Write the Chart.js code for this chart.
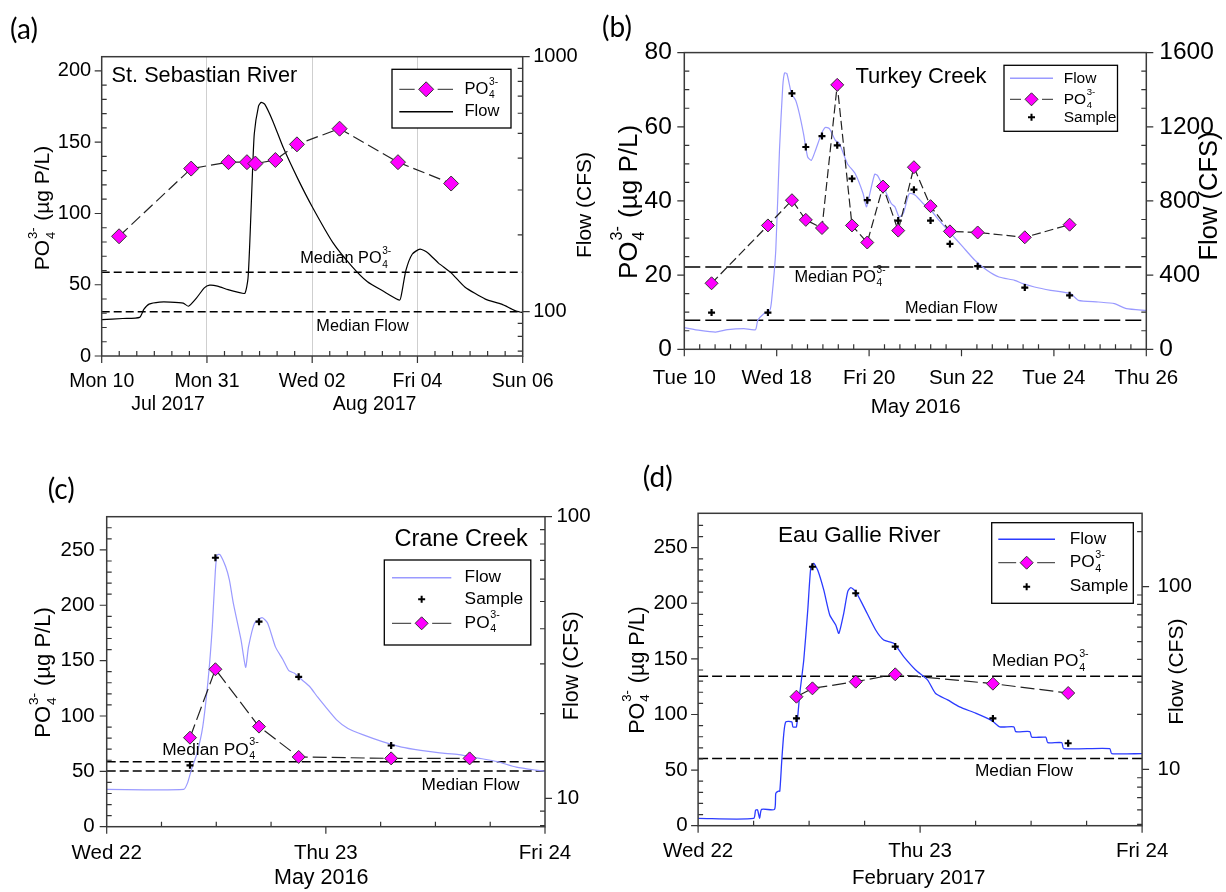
<!DOCTYPE html>
<html>
<head>
<meta charset="utf-8">
<title>Phosphate and flow, four tributaries</title>
<script src="https://cdn.jsdelivr.net/npm/chart.js@4.4.1/dist/chart.umd.min.js"></script>
<style>
  html, body { margin: 0; padding: 0; background: #fff; }
  #page { position: relative; width: 1226px; height: 892px; overflow: hidden; }
  #page canvas { position: absolute; }
</style>
</head>
<body>
<div id="page">
  <canvas id="chartA" width="600" height="440" style="left:0;top:0"></canvas>
  <canvas id="chartB" width="626" height="440" style="left:600px;top:0"></canvas>
  <canvas id="chartC" width="600" height="452" style="left:0;top:440px"></canvas>
  <canvas id="chartD" width="626" height="452" style="left:600px;top:440px"></canvas>
</div>
<script>
// ── (a) St. Sebastian River, Jul–Aug 2017 ─────────────────────────
const aTickPos = [0, 2, 4, 6, 8];
const aTickLabels = ['Mon 10', 'Mon 31', 'Wed 02', 'Fri 04', 'Sun 06'];
const aPo4Days = [0.33, 1.70, 2.41, 2.76, 2.92, 3.30, 3.71, 4.52, 5.63, 6.64];
const aPo4 = [84, 131.5, 136, 136, 135, 137.5, 148.5, 159.5, 136, 121];
const aFlowDays = [0, 0.40, 0.72, 0.80, 0.90, 1.10, 1.30, 1.55, 1.65, 1.80, 1.95, 2.05, 2.20, 2.40, 2.60,
  2.72, 2.78, 2.82, 2.86, 2.90, 2.98, 3.03, 3.10, 3.25, 3.45, 3.73, 4.00, 4.39, 4.75, 5.05,
  5.33, 5.66, 5.70, 5.78, 5.90, 6.05, 6.20, 6.40, 6.64, 6.90, 7.29, 7.60, 7.85, 8.00];
const aFlow = [93, 94, 95, 102, 107, 109, 109, 108, 105, 113, 124, 127, 126, 122, 119,
  118, 135, 200, 330, 500, 640, 662, 650, 560, 440, 331, 258, 187, 151, 131,
  121, 111, 118, 145, 168, 176, 170, 155, 142, 125, 112, 107, 101, 99];
const aMedianPo4 = 58.7;
const aMedianFlow = 100;

// ── (b) Turkey Creek, May 2016 ────────────────────────────────────
const bTickPos = [0, 2, 4, 6, 8, 10];
const bTickLabels = ['Tue 10', 'Wed 18', 'Fri 20', 'Sun 22', 'Tue 24', 'Thu 26'];
const bPo4Days = [0.59, 1.81, 2.33, 2.63, 2.98, 3.31, 3.63, 3.96, 4.30, 4.63, 4.97, 5.33, 5.75, 6.35, 7.37, 8.34];
const bPo4 = [17.8, 33.4, 40.2, 34.9, 32.7, 71.3, 33.4, 28.8, 43.9, 32.0, 49.1, 38.6, 31.8, 31.5, 30.2, 33.6];
const bSample = [198, 198, 1380, 1091, 1150, 1100, 920, 804, 861, 694, 861, 694, 568, 448, 333, 291];
const bFlowDays = [0, 0.34, 0.68, 0.94, 1.29, 1.54, 1.59, 1.72, 1.85, 1.89, 1.98, 2.06, 2.13, 2.17, 2.22,
  2.32, 2.41, 2.49, 2.58, 2.67, 2.75, 2.84, 2.97, 3.05, 3.14, 3.27, 3.36, 3.53, 3.70, 3.87,
  3.94, 4.00, 4.12, 4.18, 4.31, 4.48, 4.56, 4.65, 4.74, 4.87, 5.00, 5.17, 5.34, 5.51, 5.77,
  6.03, 6.29, 6.55, 6.81, 7.15, 7.33, 7.58, 7.93, 8.36, 8.53, 8.96, 9.31, 9.57, 10];
const bFlow = [117, 102, 93, 106, 111, 106, 156, 192, 210, 264, 534, 1073, 1415, 1490, 1487,
  1379, 1343, 1271, 1163, 1037, 1019, 1073, 1163, 1196, 1190, 1127, 1109, 1001, 947, 840,
  768, 822, 944, 938, 876, 786, 768, 714, 732, 840, 831, 786, 750, 696, 624,
  552, 480, 426, 390, 372, 354, 336, 318, 300, 264, 255, 246, 219, 210];
const bMedianPo4 = 22.2;
const bMedianFlow = 156;

// ── (c) Crane Creek, May 2016 ─────────────────────────────────────
const cTickPos = [0, 1, 2];
const cTickLabels = ['Wed 22', 'Thu 23', 'Fri 24'];
const cPo4Days = [0.38, 0.496, 0.695, 0.876, 1.298, 1.656];
const cPo4 = [80.4, 142.2, 90.4, 63, 61.7, 61.7];
const cSample = [13.1, 71.5, 42.4, 27.0, 15.4, 14.1];
const cFlowDays = [0, 0.351, 0.368, 0.386, 0.412, 0.438, 0.464, 0.482, 0.496, 0.504, 0.517, 0.543, 0.560, 0.578,
  0.613, 0.634, 0.647, 0.674, 0.709, 0.735, 0.770, 0.805, 0.831, 0.857, 0.892, 0.927, 0.962, 0.997,
  1.049, 1.101, 1.171, 1.258, 1.346, 1.433, 1.520, 1.607, 1.695, 1.782, 1.869, 1.956, 2.0];
const cFlow = [10.76, 10.76, 11.3, 12.6, 14.45, 17.9, 27, 40.8, 64.6, 73.1, 73.4, 66.4, 59.5, 49.2,
  36.5, 29.2, 34.5, 41.8, 43.8, 41.8, 34.5, 31, 28.4, 27.8, 26.3, 24.9, 22.9, 21.2,
  19, 17.7, 16.8, 15.9, 15.2, 14.8, 14.5, 14.3, 13.9, 13.5, 12.9, 12.6, 12.5];
const cMedianPo4 = 58.7;
const cMedianFlow = 12.5;

// ── (d) Eau Gallie River, February 2017 ───────────────────────────
const dTickPos = [0, 1, 2];
const dTickLabels = ['Wed 22', 'Thu 23', 'Fri 24'];
const dPo4Days = [0.443, 0.515, 0.710, 0.888, 1.328, 1.667];
const dPo4 = [116, 123.5, 129.5, 136.1, 127.7, 119.3];
const dSample = [19.0, 128.5, 92, 47, 19, 13.9];
const dFlowDays = [0, 0.250, 0.259, 0.268, 0.277, 0.286, 0.344, 0.350, 0.362, 0.368, 0.377, 0.386, 0.395, 0.422,
  0.427, 0.443, 0.458, 0.476, 0.494, 0.508, 0.521, 0.539, 0.566, 0.593, 0.620, 0.634, 0.656, 0.674,
  0.688, 0.710, 0.746, 0.800, 0.836, 0.881, 0.926, 0.980, 1.034, 1.070, 1.124, 1.178, 1.250, 1.323,
  1.359, 1.422, 1.431, 1.494, 1.503, 1.566, 1.575, 1.638, 1.647, 1.854, 1.863, 2.0];
const dFlow = [5.39, 5.39, 5.99, 6.0, 5.39, 6.04, 6.04, 7.4, 7.6, 7.6, 11.25, 15.7, 18.2, 18.2,
  17.1, 17.1, 26, 39.7, 74.5, 128.5, 134, 123, 96, 70, 61.7, 55.5, 71.5, 94,
  98.9, 94, 77.8, 57.9, 51.1, 49, 41.4, 35, 30.8, 26, 24, 22, 20.3, 18.5,
  17.1, 17.1, 16.1, 16.1, 15, 15, 14, 14, 13, 13, 12.2, 12.2];
const dMedianPo4 = 134.3;
const dMedianFlow = 11.49;

// ── shared styling ────────────────────────────────────────────────
const FONT = "'Liberation Sans', Arial, Helvetica, sans-serif";
const TAG_FONT = "Lato, 'Open Sans', sans-serif";
const MAGENTA = '#ff00ff';
const PO4 = ['PO', ['4', '3-']];
const PO4_AXIS = ['PO', ['4', '3-'], ' (\u00b5g P/L)'];
const MEDIAN_PO4 = ['Median PO', ['4', '3-']];

Chart.defaults.font.family = FONT;
Chart.defaults.color = '#000';

function series(xs, ys) { return xs.map((x, i) => ({ x, y: ys[i] })); }

function linMinors(min, max, step, majors) {
  const out = [];
  const n = Math.round((max - min) / step);
  for (let i = 1; i < n; i++) {
    const v = min + i * step;
    if (!majors.some(m => Math.abs(m - v) < step / 10)) out.push(v);
  }
  return out;
}

function logMinors(min, max) {
  const out = [];
  for (let e = Math.floor(Math.log10(min)); e <= Math.ceil(Math.log10(max)); e++) {
    for (let d = 2; d <= 9; d++) {
      const v = d * Math.pow(10, e);
      if (v >= min && v <= max) out.push(v);
    }
  }
  return out;
}

// text with a stacked subscript/superscript pair, e.g. PO4^3-
function drawRich(ctx, parts, x, y, size, align, rot, family) {
  const fam = family || FONT;
  const small = size * 0.62;
  const width = p => {
    if (typeof p === 'string') { ctx.font = size + 'px ' + fam; return ctx.measureText(p).width; }
    ctx.font = small + 'px ' + fam;
    return Math.max(ctx.measureText(p[0]).width, ctx.measureText(p[1]).width) + size * 0.08;
  };
  const total = parts.reduce((s, p) => s + width(p), 0);
  ctx.save();
  ctx.translate(x, y);
  if (rot) ctx.rotate(rot);
  ctx.fillStyle = '#000';
  ctx.textBaseline = 'middle';
  ctx.textAlign = 'left';
  let cx = align === 'center' ? -total / 2 : align === 'right' ? -total : 0;
  parts.forEach(p => {
    const w = width(p);
    if (typeof p === 'string') {
      ctx.font = size + 'px ' + fam;
      ctx.fillText(p, cx, 0);
    } else {
      ctx.font = small + 'px ' + fam;
      ctx.fillText(p[0], cx + size * 0.04, size * 0.36);
      ctx.fillText(p[1], cx + size * 0.04, -size * 0.46);
    }
    cx += w;
  });
  ctx.restore();
}

function diamond(ctx, x, y, r) {
  ctx.beginPath();
  ctx.moveTo(x - r, y); ctx.lineTo(x, y - r); ctx.lineTo(x + r, y); ctx.lineTo(x, y + r);
  ctx.closePath();
  ctx.fillStyle = MAGENTA; ctx.fill();
  ctx.strokeStyle = '#333'; ctx.lineWidth = 1; ctx.stroke();
}

function cross(ctx, x, y, r) {
  ctx.beginPath();
  ctx.moveTo(x - r, y); ctx.lineTo(x + r, y);
  ctx.moveTo(x, y - r); ctx.lineTo(x, y + r);
  ctx.strokeStyle = '#000'; ctx.lineWidth = 2; ctx.stroke();
}

// frame, in/out ticks, legend box and free text for one panel
function decorPlugin(p) {
  return {
    id: 'decor',
    afterDraw(chart) {
      const { ctx, chartArea: a, scales } = chart;
      const MAJ = 7, MIN = 5;
      ctx.save();
      ctx.strokeStyle = '#333';
      ctx.lineWidth = 1.2;
      ctx.beginPath();
      scales.x.ticks.forEach(t => {
        const px = scales.x.getPixelForValue(t.value);
        ctx.moveTo(px, a.bottom); ctx.lineTo(px, a.bottom + MAJ);
      });
      p.minors.x.forEach(v => {
        const px = scales.x.getPixelForValue(v);
        ctx.moveTo(px, a.bottom); ctx.lineTo(px, a.bottom - MIN);
      });
      scales.y.ticks.forEach(t => {
        const py = scales.y.getPixelForValue(t.value);
        ctx.moveTo(a.left - MAJ, py); ctx.lineTo(a.left, py);
      });
      p.minors.y.forEach(v => {
        const py = scales.y.getPixelForValue(v);
        ctx.moveTo(a.left, py); ctx.lineTo(a.left + MIN, py);
      });
      scales.y1.ticks.forEach(t => {
        const py = scales.y1.getPixelForValue(t.value);
        ctx.moveTo(a.right, py); ctx.lineTo(a.right + MAJ, py);
      });
      p.minors.y1.forEach(v => {
        const py = scales.y1.getPixelForValue(v);
        ctx.moveTo(a.right - MIN, py); ctx.lineTo(a.right, py);
      });
      ctx.stroke();

      ctx.lineWidth = 1.5;
      ctx.strokeStyle = '#3a3a3a';
      ctx.strokeRect(a.left, a.top, a.right - a.left, a.bottom - a.top);

      // legend
      const lg = p.legend;
      ctx.fillStyle = '#fff';
      ctx.fillRect(lg.x0, lg.y0, lg.x1 - lg.x0, lg.y1 - lg.y0);
      ctx.strokeStyle = '#000';
      ctx.lineWidth = 1.3;
      ctx.strokeRect(lg.x0, lg.y0, lg.x1 - lg.x0, lg.y1 - lg.y0);
      lg.items.forEach((it, i) => {
        const y = lg.rows[i];
        const mid = (lg.lx0 + lg.lx1) / 2;
        if (it.kind === 'flow') {
          ctx.beginPath();
          ctx.setLineDash([]);
          ctx.strokeStyle = p.flowColor; ctx.lineWidth = 1.4;
          ctx.moveTo(lg.lx0, y); ctx.lineTo(lg.lx1, y); ctx.stroke();
        } else if (it.kind === 'po4') {
          ctx.beginPath();
          ctx.setLineDash([]);
          ctx.strokeStyle = '#555'; ctx.lineWidth = 1.3;
          ctx.moveTo(lg.lx0, y); ctx.lineTo(mid - p.dia - 4, y);
          ctx.moveTo(mid + p.dia + 4, y); ctx.lineTo(lg.lx1, y); ctx.stroke();
          diamond(ctx, mid, y, p.dia);
        } else {
          cross(ctx, mid, y, 3.5);
        }
        drawRich(ctx, it.label, lg.tx, y, lg.size, 'left');
      });

      p.texts.forEach(t => drawRich(ctx, t.parts, t.x, t.y, t.size, t.align || 'center', t.rot || 0, t.family));
      ctx.restore();
    }
  };
}

function makePanel(id, p) {
  const box = p.box;
  const datasets = [{
    label: 'PO4', data: series(p.po4Days, p.po4), yAxisID: 'y',
    borderColor: '#222', borderWidth: 1.2, borderDash: p.po4Dash,
    pointStyle: 'rectRot', pointRadius: p.dia, pointHoverRadius: p.dia,
    pointBackgroundColor: MAGENTA, pointBorderColor: '#333', pointBorderWidth: 1
  }];
  if (p.sample) {
    datasets.push({
      label: 'Sample', data: series(p.po4Days, p.sample), yAxisID: 'y1', showLine: false,
      pointStyle: 'cross', pointRadius: 3.5, pointBorderColor: '#000', pointBorderWidth: 2.2
    });
  }
  datasets.push({
    label: 'Flow', data: series(p.flowDays, p.flow), yAxisID: 'y1',
    borderColor: p.flowColor, borderWidth: p.flowWidth, pointRadius: 0, tension: 0.2
  }, {
    label: 'Median PO4', data: [{ x: 0, y: p.medianPo4 }, { x: p.xMax, y: p.medianPo4 }], yAxisID: 'y',
    borderColor: '#000', borderWidth: 1.5, borderDash: p.medDash, pointRadius: 0
  }, {
    label: 'Median Flow', data: [{ x: 0, y: p.medianFlow }, { x: p.xMax, y: p.medianFlow }], yAxisID: 'y1',
    borderColor: '#000', borderWidth: 1.5, borderDash: p.medDash, pointRadius: 0
  });

  const setTicks = vals => scale => { scale.ticks = vals.map(v => ({ value: v })); };
  const xGrid = p.xGrid
    ? { display: true, drawTicks: false, lineWidth: 1,
        color: c => (c.tick && c.tick.value > 0 && c.tick.value < p.xMax) ? '#cfcfcf' : 'rgba(0,0,0,0)' }
    : { display: false, drawTicks: false };

  return new Chart(document.getElementById(id), {
    type: 'line',
    data: { datasets },
    options: {
      responsive: false,
      animation: false,
      events: [],
      layout: { padding: { top: box.top, left: 0, right: 0, bottom: 0 } },
      plugins: { legend: { display: false }, tooltip: { enabled: false } },
      scales: {
        x: {
          type: 'linear', min: 0, max: p.xMax,
          afterBuildTicks: setTicks(p.xTicks),
          afterFit: s => { s.height = box.h - box.bottom; },
          ticks: { callback: (v, i) => p.xLabels[i], font: { size: p.xFont }, padding: p.xPad,
                   maxRotation: 0, autoSkip: false },
          grid: xGrid, border: { display: false }
        },
        y: {
          type: 'linear', position: 'left', min: 0, max: p.yMax,
          afterBuildTicks: setTicks(p.yTicks),
          afterFit: s => { s.width = box.left; },
          ticks: { callback: v => String(v), font: { size: p.yFont }, padding: p.yPad },
          grid: { display: false, drawTicks: false }, border: { display: false }
        },
        y1: {
          type: p.flowLog ? 'logarithmic' : 'linear', position: 'right',
          min: p.y1Min, max: p.y1Max,
          afterBuildTicks: setTicks(p.y1Ticks),
          afterFit: s => { s.width = box.w - box.right; },
          ticks: { callback: v => String(v), font: { size: p.yFont }, padding: p.y1Pad },
          grid: { display: false, drawTicks: false }, border: { display: false }
        }
      }
    },
    plugins: [decorPlugin(p)]
  });
}

// ── Panels ────────────────────────────────────────────────────────
const rot = -Math.PI / 2;

makePanel('chartA', {
  box: { w: 600, h: 440, left: 101.7, right: 522.7, top: 56.7, bottom: 356 },
  xMax: 8, xTicks: aTickPos, xLabels: aTickLabels, xFont: 19.5, xPad: 13.7, xGrid: true,
  yMax: 210, yTicks: [0, 50, 100, 150, 200], yFont: 20, yPad: 10.5,
  flowLog: true, y1Min: 67, y1Max: 1000, y1Ticks: [100, 1000], y1Pad: 10.5,
  po4Days: aPo4Days, po4: aPo4, flowDays: aFlowDays, flow: aFlow,
  medianPo4: aMedianPo4, medianFlow: aMedianFlow,
  flowColor: '#000', flowWidth: 1.2, dia: 7.5, po4Dash: [12, 5], medDash: [8, 4],
  minors: { x: linMinors(0, 8, 1 / 3, aTickPos), y: linMinors(0, 210, 10, [0, 50, 100, 150, 200]), y1: logMinors(67, 1000) },
  legend: { x0: 392, y0: 69.3, x1: 511, y1: 128, rows: [89.3, 111.7], lx0: 399.3, lx1: 453, tx: 464.5, size: 16.5,
            items: [{ kind: 'po4', label: PO4 }, { kind: 'flow', label: ['Flow'] }] },
  texts: [
    { parts: ['(a)'], x: 24, y: 30, size: 28, family: TAG_FONT },
    { parts: ['St. Sebastian River'], x: 111.6, y: 76, size: 21.7, align: 'left' },
    { parts: PO4_AXIS, x: 43.5, y: 208, size: 21, rot },
    { parts: ['Flow (CFS)'], x: 585, y: 205, size: 21, rot },
    { parts: ['Jul 2017'], x: 168, y: 405, size: 19.5 },
    { parts: ['Aug 2017'], x: 374.6, y: 405, size: 19.5 },
    { parts: MEDIAN_PO4, x: 346, y: 259, size: 16.3 },
    { parts: ['Median Flow'], x: 362.5, y: 326.7, size: 16.3 }
  ]
});

makePanel('chartB', {
  box: { w: 626, h: 440, left: 84.3, right: 546.3, top: 52.6, bottom: 349.3 },
  xMax: 10, xTicks: bTickPos, xLabels: bTickLabels, xFont: 20.5, xPad: 16.5,
  yMax: 80, yTicks: [0, 20, 40, 60, 80], yFont: 24.5, yPad: 12.5,
  flowLog: false, y1Min: 0, y1Max: 1600, y1Ticks: [0, 400, 800, 1200, 1600], y1Pad: 13,
  po4Days: bPo4Days, po4: bPo4, sample: bSample, flowDays: bFlowDays, flow: bFlow,
  medianPo4: bMedianPo4, medianFlow: bMedianFlow,
  flowColor: '#9a9aff', flowWidth: 1.2, dia: 6.5, po4Dash: [9, 4], medDash: [16, 5],
  minors: { x: linMinors(0, 10, 1 / 3, bTickPos), y: linMinors(0, 80, 5, [0, 20, 40, 60, 80]),
            y1: linMinors(0, 1600, 100, [0, 400, 800, 1200, 1600]) },
  legend: { x0: 404, y0: 65.3, x1: 517.5, y1: 131.3, rows: [78.3, 99.3, 117.3], lx0: 410, lx1: 453, tx: 463.7, size: 15.5,
            items: [{ kind: 'flow', label: ['Flow'] }, { kind: 'po4', label: PO4 }, { kind: 'sample', label: ['Sample'] }] },
  texts: [
    { parts: ['(b)'], x: 17, y: 28, size: 28, family: TAG_FONT },
    { parts: ['Turkey Creek'], x: 321, y: 77, size: 22 },
    { parts: PO4_AXIS, x: 30, y: 202, size: 26, rot },
    { parts: ['Flow (CFS)'], x: 610, y: 196, size: 25.5, rot },
    { parts: ['May 2016'], x: 315.7, y: 407, size: 20.5 },
    { parts: MEDIAN_PO4, x: 240.3, y: 277.6, size: 16.3 },
    { parts: ['Median Flow'], x: 351.2, y: 308.6, size: 16.3 }
  ]
});

makePanel('chartC', {
  box: { w: 600, h: 452, left: 106.7, right: 545, top: 76.7, bottom: 386.7 },
  xMax: 2, xTicks: cTickPos, xLabels: cTickLabels, xFont: 20.5, xPad: 14.3,
  yMax: 280, yTicks: [0, 50, 100, 150, 200, 250], yFont: 20.5, yPad: 12,
  flowLog: true, y1Min: 7.93, y1Max: 100, y1Ticks: [10, 100], y1Pad: 11.4,
  po4Days: cPo4Days, po4: cPo4, sample: cSample, flowDays: cFlowDays, flow: cFlow,
  medianPo4: cMedianPo4, medianFlow: cMedianFlow,
  flowColor: '#9a9aff', flowWidth: 1.2, dia: 6.5, po4Dash: [14, 5], medDash: [9, 4],
  minors: { x: linMinors(0, 2, 0.25, cTickPos), y: linMinors(0, 280, 10, [0, 50, 100, 150, 200, 250]), y1: logMinors(7.93, 100) },
  legend: { x0: 384.3, y0: 120, x1: 530.8, y1: 205, rows: [137.7, 159.3, 183.3], lx0: 392, lx1: 451.3, tx: 464.6, size: 17.3,
            items: [{ kind: 'flow', label: ['Flow'] }, { kind: 'sample', label: ['Sample'] }, { kind: 'po4', label: PO4 }] },
  texts: [
    { parts: ['(c)'], x: 61.2, y: 50, size: 28, family: TAG_FONT },
    { parts: ['Crane Creek'], x: 527.7, y: 100, size: 23.5, align: 'right' },
    { parts: PO4_AXIS, x: 44, y: 232.5, size: 22, rot },
    { parts: ['Flow (CFS)'], x: 571.7, y: 225.8, size: 21.5, rot },
    { parts: ['May 2016'], x: 321.2, y: 438.3, size: 21.5 },
    { parts: MEDIAN_PO4, x: 210.9, y: 310, size: 17.3 },
    { parts: ['Median Flow'], x: 470.5, y: 345, size: 17.3 }
  ]
});

makePanel('chartD', {
  box: { w: 626, h: 452, left: 98.1, right: 542.1, top: 73.3, bottom: 385.7 },
  xMax: 2, xTicks: dTickPos, xLabels: dTickLabels, xFont: 20.5, xPad: 13.7,
  yMax: 280.9, yTicks: [0, 50, 100, 150, 200, 250], yFont: 20.5, yPad: 10.5,
  flowLog: true, y1Min: 4.92, y1Max: 252, y1Ticks: [10, 100], y1Pad: 15.5,
  po4Days: dPo4Days, po4: dPo4, sample: dSample, flowDays: dFlowDays, flow: dFlow,
  medianPo4: dMedianPo4, medianFlow: dMedianFlow,
  flowColor: '#2b3bff', flowWidth: 1.3, dia: 6.5, po4Dash: [14, 5], medDash: [10, 4],
  minors: { x: linMinors(0, 2, 0.25, dTickPos), y: linMinors(0, 280, 10, [0, 50, 100, 150, 200, 250]), y1: logMinors(4.92, 252) },
  legend: { x0: 391.7, y0: 82.7, x1: 533.3, y1: 163.3, rows: [99.3, 122.7, 146.7], lx0: 398.3, lx1: 455, tx: 469.7, size: 17.3,
            items: [{ kind: 'flow', label: ['Flow'] }, { kind: 'po4', label: PO4 }, { kind: 'sample', label: ['Sample'] }] },
  texts: [
    { parts: ['(d)'], x: 57.7, y: 38.3, size: 28, family: TAG_FONT },
    { parts: ['Eau Gallie River'], x: 259.3, y: 96, size: 22.5 },
    { parts: PO4_AXIS, x: 37.7, y: 230, size: 21.5, rot },
    { parts: ['Flow (CFS)'], x: 577.7, y: 231.7, size: 21, rot },
    { parts: ['February 2017'], x: 318.7, y: 438.3, size: 20.5 },
    { parts: MEDIAN_PO4, x: 440.7, y: 221.7, size: 17.3 },
    { parts: ['Median Flow'], x: 423.9, y: 331.7, size: 17.3 }
  ]
});
</script>
</body>
</html>
